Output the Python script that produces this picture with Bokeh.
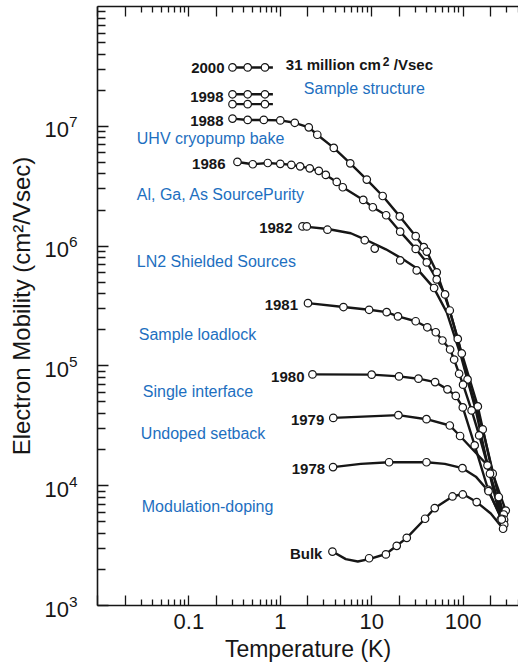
from bokeh.plotting import figure
from bokeh.models import (FixedTicker, CustomJSTickFormatter, LogAxis, Label,
                          ColumnDataSource, Range1d)
from bokeh.core.properties import value
from bokeh.embed import file_html
from bokeh.resources import INLINE

FONT = "Liberation Sans"
INK = "#161616"
BLUE = "#1d6fc0"

# ---------------- data (temperature K, mobility cm^2/Vs) ----------------
T_2000 = [0.30, 0.44, 0.68]
MU_2000 = [3.1e7, 3.1e7, 3.1e7]
LINE_T_2000 = [0.30, 0.83]
LINE_MU_2000 = [3.1e7, 3.1e7]

T_1998A = [0.30, 0.44, 0.68]
MU_1998A = [1.85e7, 1.85e7, 1.85e7]
LINE_T_1998A = [0.30, 0.83]
LINE_MU_1998A = [1.85e7, 1.85e7]

T_1998B = [0.30, 0.44, 0.68]
MU_1998B = [1.53e7, 1.53e7, 1.53e7]
LINE_T_1998B = [0.30, 0.83]
LINE_MU_1998B = [1.53e7, 1.53e7]

T_1988 = [0.30, 0.44, 0.66, 1.0, 1.44, 2.05, 2.54, 3.85, 5.83, 8.84, 13.2, 20.3,
          30.3, 37.2, 40.1, 51.5, 71.5, 96.8, 145, 211, 293]
MU_1988 = [1.16e7, 1.13e7, 1.13e7, 1.12e7, 1.07e7, 9.8e6, 8.5e6, 6.6e6, 4.91e6,
           3.59e6, 2.62e6, 1.77e6, 1.21e6, 9.8e5, 9.0e5, 6.04e5, 2.90e5, 1.27e5,
           4.59e4, 1.26e4, 6.2e3]

T_1986 = [0.34, 0.50, 0.73, 1.0, 1.32, 1.65, 2.10, 2.64, 3.15, 4.15, 4.83, 8.09,
          10.3, 14.4, 20.5, 30.3, 40.1, 51.5, 63.5, 87.5, 112, 164, 246, 279]
MU_1986 = [5.04e6, 4.82e6, 4.94e6, 4.86e6, 4.77e6, 4.63e6, 4.46e6, 4.25e6, 3.93e6,
           3.43e6, 3.10e6, 2.43e6, 2.11e6, 1.81e6, 1.32e6, 9.48e5, 7.31e5, 5.27e5,
           3.95e5, 1.68e5, 7.71e4, 2.95e4, 8.05e3, 5.75e3]

T_1982 = [1.75, 1.95, 3.28, 8.40, 10.8, 20.5, 31.1, 48.2, 281]
MU_1982 = [1.46e6, 1.46e6, 1.37e6, 1.12e6, 9.53e5, 7.60e5, 6.27e5, 4.47e5, 5.2e3]
LINE_T_1982 = [1.75, 3.31, 5.91, 8.40, 14.3, 20.8, 31.1, 47.8, 66.3, 94.4, 138, 191, 281]
LINE_MU_1982 = [1.46e6, 1.39e6, 1.28e6, 1.14e6, 9.40e5, 7.98e5, 6.52e5, 4.48e5,
                2.80e5, 1.22e5, 4.25e4, 1.34e4, 5.2e3]

T_1981 = [2.01, 4.91, 9.37, 14.6, 19.4, 30.3, 40.6, 50.3, 59.5, 72.1, 79.8, 90.5,
          100, 124, 150, 197, 263]
MU_1981 = [3.34e5, 3.10e5, 2.94e5, 2.81e5, 2.59e5, 2.36e5, 2.10e5, 1.91e5, 1.63e5,
           1.37e5, 1.13e5, 8.6e4, 6.97e4, 4.25e4, 2.63e4, 1.26e4, 5.3e3]

T_1980 = [2.25, 10.0, 19.9, 32.5, 49.4, 67.5, 83.2, 99.3, 134, 188, 282]
MU_1980 = [8.49e4, 8.45e4, 8.17e4, 7.82e4, 7.33e4, 6.37e4, 5.62e4, 4.50e4, 2.17e4,
           9.25e3, 4.74e3]

T_1979 = [3.80, 19.6, 39.8, 71.6, 92.7, 185, 258]
MU_1979 = [3.68e4, 3.88e4, 3.59e4, 3.18e4, 2.60e4, 1.48e4, 5.22e3]

T_1978 = [3.78, 15.5, 39.8, 98.5, 190, 265]
MU_1978 = [1.43e4, 1.57e4, 1.57e4, 1.40e4, 9.0e3, 5.22e3]
LINE_T_1978 = [3.78, 7.6, 15.5, 39.8, 63, 98.5, 138, 190, 265]
LINE_MU_1978 = [1.43e4, 1.52e4, 1.57e4, 1.57e4, 1.52e4, 1.40e4, 1.19e4, 9.0e3, 5.22e3]

T_BULK = [3.72, 9.37, 14.3, 18.8, 24.2, 38.4, 49.0, 76.6, 99.3, 141, 274]
MU_BULK = [2.82e3, 2.48e3, 2.67e3, 3.15e3, 3.67e3, 5.30e3, 6.50e3, 8.13e3, 8.45e3,
           7.30e3, 4.37e3]
LINE_T_BULK = [3.72, 5.21, 7.05, 9.37, 14.3, 18.8, 24.2, 38.4, 49.0, 76.6, 99.3,
               141, 201, 274]
LINE_MU_BULK = [2.82e3, 2.44e3, 2.33e3, 2.44e3, 2.69e3, 3.15e3, 3.67e3, 5.30e3,
                6.50e3, 8.13e3, 8.53e3, 7.30e3, 5.86e3, 4.37e3]

SERIES_LABELS = ["2000", "1998", "1988", "1986", "1982", "1981", "1980", "1979", "1978", "Bulk"]

ANNOTATIONS = ["Sample structure", "UHV cryopump bake", "Al, Ga, As SourcePurity",
               "LN2 Shielded Sources", "Sample loadlock", "Single interface",
               "Undoped setback", "Modulation-doping"]
RECORD_TEXT = ["31 million cm", "2", "/Vsec"]

X_TICK_LABELS = ["0.1", "1", "10", "100"]
X_TITLE = "Temperature (K)"
Y_TITLE = "Electron Mobility (cm\u00b2/Vsec)"

# ---------------- layout ----------------
ANN_POS = [(1.81, 2.07e7), (0.0269, 7.94e6), (0.0269, 2.70e6), (0.0269, 7.46e5),
           (0.0283, 1.83e5), (0.0313, 6.12e4), (0.0298, 2.73e4), (0.0305, 6.71e3)]
RECORD_POS = (1.15, 3.25e7)
RECORD_DX = [0, 97, 108]
RECORD_RAISE = [1.0, 1.07, 1.0]
RECORD_SIZE = ["15px", "12px", "15px"]

series = [
    (T_2000, MU_2000, LINE_T_2000, LINE_MU_2000),
    (T_1998A, MU_1998A, LINE_T_1998A, LINE_MU_1998A),
    (T_1998B, MU_1998B, LINE_T_1998B, LINE_MU_1998B),
    (T_1988, MU_1988, T_1988, MU_1988),
    (T_1986, MU_1986, T_1986, MU_1986),
    (T_1982, MU_1982, LINE_T_1982, LINE_MU_1982),
    (T_1981, MU_1981, T_1981, MU_1981),
    (T_1980, MU_1980, T_1980, MU_1980),
    (T_1979, MU_1979, T_1979, MU_1979),
    (T_1978, MU_1978, LINE_T_1978, LINE_MU_1978),
    (T_BULK, MU_BULK, LINE_T_BULK, LINE_MU_BULK),
]
labelled = [series[i] for i in (0, 1, 3, 4, 5, 6, 7, 8, 9, 10)]
LABEL_DX = [-8, -9, -9, -12, -10, -10, -8, -9, -8, -10]
LABEL_DY = [1, 3, 2, 2, 2, 1.5, 2.5, 2, 2, 2]

p = figure(width=518, height=670, x_axis_type="log", y_axis_type="log",
           x_range=Range1d(0.01, 404), y_range=Range1d(1e3, 1e8),
           output_backend="svg", toolbar_location=None,
           min_border_left=97, min_border_right=0, min_border_top=6, min_border_bottom=65)
p.outline_line_color = None
p.grid.visible = False
p.background_fill_color = "white"
p.border_fill_color = "white"

X_MAJOR = [0.01, 0.02, 0.1, 0.2, 1, 2, 10, 20, 100, 200, 1000]
X_MINOR = [m * 10.0 ** e for e in range(-2, 3) for m in (3, 4, 5, 6, 7, 8, 9)]
Y_MAJOR = [1e3, 1e4, 1e5, 1e6, 1e7]
Y_MINOR = [m * 10.0 ** e for e in range(3, 8) for m in range(2, 10)]

xfmt = CustomJSTickFormatter(args=dict(labels=X_TICK_LABELS), code="""
const e = Math.log10(tick); const r = Math.round(e);
if (Math.abs(e - r) > 1e-6) return "";
const i = r + 1;
return (i >= 0 && i < labels.length) ? labels[i] : "";
""")

def style_axis(ax, major_in, minor_in):
    ax.axis_line_color = INK
    ax.axis_line_width = 1.6
    ax.major_tick_line_color = INK
    ax.minor_tick_line_color = INK
    ax.major_tick_line_width = 1.3
    ax.minor_tick_line_width = 1.3
    ax.major_tick_in = major_in
    ax.major_tick_out = 0
    ax.minor_tick_in = minor_in
    ax.minor_tick_out = 0
    ax.major_label_text_font = FONT
    ax.major_label_text_color = INK
    ax.axis_label_text_font = FONT
    ax.axis_label_text_font_style = "normal"
    ax.axis_label_text_color = INK

xa = p.xaxis[0]
xa.ticker = FixedTicker(ticks=X_MAJOR, minor_ticks=X_MINOR)
xa.formatter = xfmt
style_axis(xa, 10, 6)
xa.major_label_text_font_size = "22px"
xa.major_label_standoff = 8
xa.axis_label = X_TITLE
xa.axis_label_text_font_size = "23px"
xa.axis_label_standoff = 4

ya = p.yaxis[0]
ya.ticker = FixedTicker(ticks=Y_MAJOR, minor_ticks=Y_MINOR)
style_axis(ya, 11, 8)
ya.major_label_text_font_size = "22px"
ya.major_label_standoff = 20
ya.axis_label = Y_TITLE
ya.axis_label_text_font_size = "24px"
ya.axis_label_standoff = 6

top = LogAxis(ticker=FixedTicker(ticks=X_MAJOR, minor_ticks=X_MINOR),
              formatter=CustomJSTickFormatter(code="return '';"))
style_axis(top, 10, 6)
top.major_label_text_font_size = "1px"
top.major_label_standoff = 0
p.add_layout(top, "above")

for t, mu, lt, lmu in series:
    p.line(lt, lmu, line_width=2.4, line_color=INK)
for t, mu, lt, lmu in series:
    p.scatter(t, mu, size=7.5, marker="circle", fill_color="white",
              line_color=INK, line_width=1.2)

lab_src = ColumnDataSource(dict(
    x=[s[0][0] for s in labelled], y=[s[1][0] for s in labelled],
    text=SERIES_LABELS, dx=LABEL_DX, dy=LABEL_DY))
p.text(x="x", y="y", text="text", x_offset="dx", y_offset="dy", source=lab_src,
       text_font=value(FONT), text_font_style="bold", text_font_size="15px",
       text_color=INK, text_align="right", text_baseline="middle")

for txt, (ax_, ay_) in zip(ANNOTATIONS, ANN_POS):
    p.add_layout(Label(x=ax_, y=ay_, text=txt, text_font=FONT, text_font_size="16px",
                       text_color=BLUE, text_baseline="middle", text_align="left"))

for txt, dx, r, fs in zip(RECORD_TEXT, RECORD_DX, RECORD_RAISE, RECORD_SIZE):
    p.add_layout(Label(x=RECORD_POS[0], y=RECORD_POS[1] * r, x_offset=dx, text=txt,
                       text_font=FONT, text_font_size=fs, text_font_style="bold",
                       text_color=INK, text_baseline="middle", text_align="left"))

open("out.html", "w").write(file_html(p, INLINE))
